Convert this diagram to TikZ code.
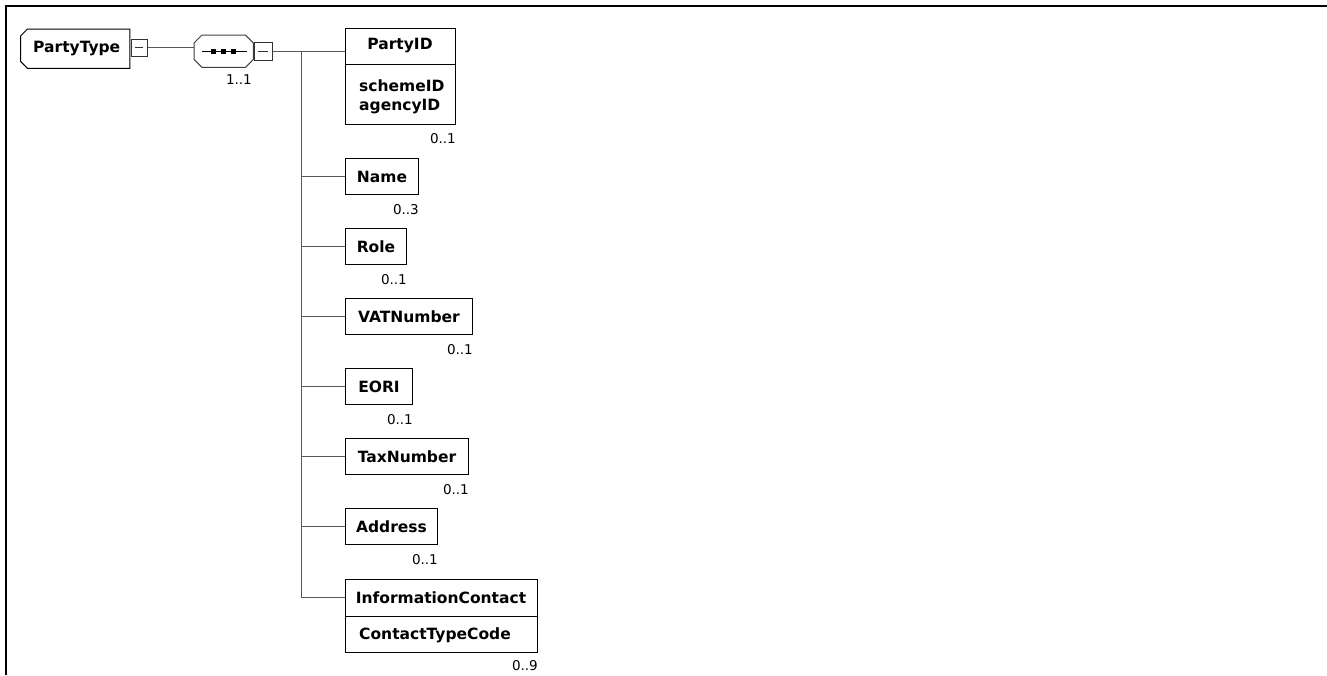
\documentclass[tikz,border=0pt]{standalone}
\usepackage{fontspec}
\setmainfont{DejaVu Sans}
\begin{document}
\begin{tikzpicture}[x=1pt,y=-1pt,
  elem/.style={draw=black, line width=1pt, inner sep=0pt, anchor=north west,
    minimum height=36pt, font=\bfseries\fontsize{15.5}{18}\selectfont},
  tall/.style={draw=black, line width=1pt, inner sep=0pt, anchor=north west},
  etxt/.style={inner sep=0pt, font=\bfseries\fontsize{15.5}{18}\selectfont},
  card/.style={inner sep=0pt, anchor=north east, font=\fontsize{13.5}{15}\selectfont},
  conn/.style={draw=black!65, line width=1pt},
  minusbox/.style={draw=black!80, line width=0.8pt, inner sep=0pt, minimum width=16pt, minimum height=17pt},
]
\useasboundingbox (0,0) rectangle (1327,675);
% frame
\draw[line width=2.2pt] (6,675) -- (6,6) -- (1327,6);

% PartyType
\node[inner sep=0pt, minimum width=109pt, minimum height=39pt, anchor=north west,
  font=\bfseries\fontsize{15.5}{18}\selectfont] (pt) at (20.5,29) {\hspace*{3pt}PartyType};
\draw[black, line width=1pt] ([xshift=7pt]pt.north west) -- (pt.north east) -- (pt.south east)
  -- ([xshift=7pt]pt.south west) -- ([yshift=7pt]pt.south west) -- ([yshift=-7pt]pt.north west) -- cycle;
\node[minusbox, anchor=west] (ptm) at (131,47.5) {};
\draw[black!80, line width=0.8pt] ([xshift=-4pt]ptm.center) -- ([xshift=4pt]ptm.center);

% sequence
\node[inner sep=0pt, minimum width=59pt, minimum height=32pt, anchor=north west] (seq) at (194,35) {};
\draw[black!75, line width=1pt] ([xshift=8pt]seq.north west) -- ([xshift=-8pt]seq.north east)
  -- ([yshift=-8pt]seq.north east) -- ([yshift=8pt]seq.south east) -- ([xshift=-8pt]seq.south east)
  -- ([xshift=8pt]seq.south west) -- ([yshift=8pt]seq.south west) -- ([yshift=-8pt]seq.north west) -- cycle;
\draw[black, line width=0.9pt] (202,51) -- (247,51);
\foreach \dx in {213,223,233} \fill (\dx-2.5,48.5) rectangle (\dx+2.5,53.5);
\node[minusbox, minimum width=18pt, minimum height=18pt, anchor=west] (sqm) at (254,51) {};
\draw[black!80, line width=0.8pt] ([xshift=-5pt]sqm.center) -- ([xshift=5pt]sqm.center);
\node[card] (c0) at (252,74) {1..1};

\draw[conn] (ptm.east) -- (ptm.east -| seq.west);

% trunk
\coordinate (tr) at (301,51);
\coordinate (trb) at (301,597);
\draw[conn] (sqm.east) -- (tr) -- (trb);

% PartyID
\node[tall, minimum width=110pt, minimum height=96pt] (pid) at (345,28) {};
\draw[line width=1pt] (345,64) -- (455,64);
\node[etxt] (pidh) at (400,46) {PartyID};
\node[etxt, anchor=west] (pida) at (359,86) {schemeID};
\node[etxt, anchor=west] (pidb) at (359,107) {agencyID};
\node[card] (c1) at (pid.south east) [yshift=-8pt] {0..1};
\draw[conn] (tr) -- (tr -| pid.west);

% simple elements
\node[elem, minimum width=73pt] (name) at (345,158) {Name};
\node[card, yshift=-9pt] (c2) at (name.south east) {0..3};
\node[elem, minimum width=61pt] (role) at (345,228) {Role};
\node[card, yshift=-9pt] (c3) at (role.south east) {0..1};
\node[elem, minimum width=127pt] (vat) at (345,298) {VATNumber};
\node[card, yshift=-9pt] (c4) at (vat.south east) {0..1};
\node[elem, minimum width=67pt] (eori) at (345,368) {EORI};
\node[card, yshift=-9pt] (c5) at (eori.south east) {0..1};
\node[elem, minimum width=123pt] (tax) at (345,438) {TaxNumber};
\node[card, yshift=-9pt] (c6) at (tax.south east) {0..1};
\node[elem, minimum width=92pt] (addr) at (345,508) {Address};
\node[card, yshift=-9pt] (c7) at (addr.south east) {0..1};

% InformationContact
\node[tall, minimum width=192pt, minimum height=73pt] (ic) at (345,579) {};
\draw[line width=1pt] (345,616) -- (537,616);
\node[etxt] (ich) at (441,598) {InformationContact};
\node[etxt, anchor=west] (ica) at (359,635) {ContactTypeCode};
\node[card, yshift=-7pt] (c8) at (ic.south east) {0..9};

\foreach \n in {name,role,vat,eori,tax,addr}
  \draw[conn] (\n.west -| tr) -- (\n.west);
\draw[conn] (trb) -- (trb -| ic.west);
\end{tikzpicture}
\end{document}
